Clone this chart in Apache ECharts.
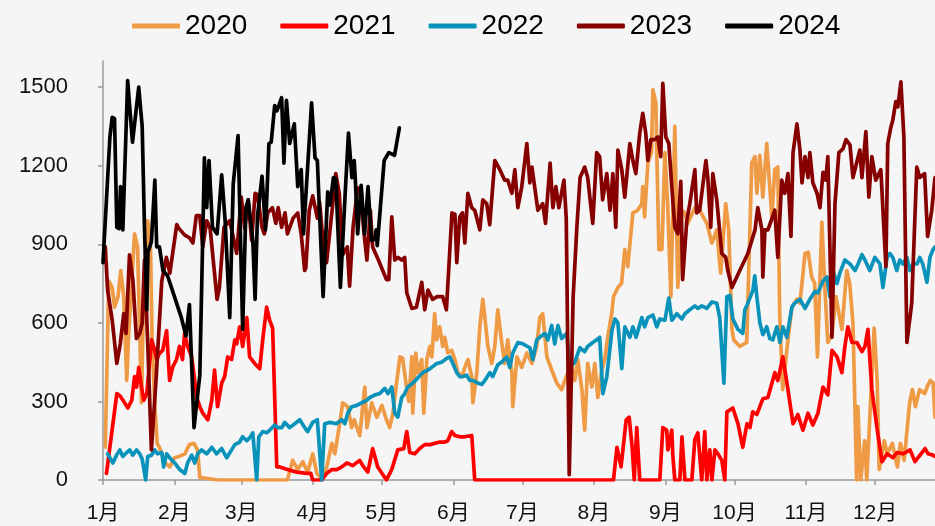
<!DOCTYPE html>
<html>
<head>
<meta charset="utf-8">
<script src="https://cdn.jsdelivr.net/npm/echarts@6/dist/echarts.min.js"></script>
<style>
html,body{margin:0;padding:0;background:#F5F5F5;}
#chart{width:935px;height:526px;}
</style>
</head>
<body>
<div id="chart"></div>
<script>
// Day index within a leap year (0 = 1月1日)
const monthStarts = [0, 31, 60, 91, 121, 152, 182, 213, 244, 274, 305, 335];
const monthLabels = ['1月','2月','3月','4月','5月','6月','7月','8月','9月','10月','11月','12月'];
const yTicks = [0, 300, 600, 900, 1200, 1500];
const seriesNames = ['2020', '2021', '2022', '2023', '2024'];

const data2020 = [[1,125],[2.5,760],[4,735],[5,660],[6.5,700],[7.7,800],[9,700],[10.3,380],[11,535],[13.7,940],[15,890],[16.7,295],[17.7,760],[19.4,990],[20.6,890],[21.3,535],[22.5,280],[23.5,140],[24.5,125],[27,65],[29,50],[31,85],[33,90],[35.5,100],[37.5,135],[39.5,140],[41,115],[42,10],[50,0],[60,0],[70,0],[80,0],[82.3,75],[84.5,40],[86.7,70],[88.8,30],[91,100],[92.8,25],[94.9,5],[97.1,50],[99.3,140],[100.6,100],[102.7,215],[104,295],[106.2,280],[107.9,200],[109,230],[111.4,170],[113.6,355],[114.5,200],[116.6,295],[118.8,240],[121,285],[123,230],[124.4,200],[125.7,250],[127.5,380],[128.8,470],[130,465],[131.3,380],[132.7,300],[134,470],[134.4,255],[135.7,485],[136.6,410],[138.3,460],[139.2,255],[140.5,460],[141.8,510],[142.7,470],[143.9,635],[144.8,535],[146.1,585],[147.4,510],[148.3,545],[149.6,485],[151.3,495],[152.7,460],[154,410],[155.7,395],[157,430],[158.3,460],[160,395],[160.5,295],[162.2,410],[163.5,585],[164.8,690],[165.7,620],[167,510],[168.7,445],[170,510],[171.3,650],[173,525],[174.3,445],[175.6,535],[177.4,410],[177.8,280],[179.6,470],[181.7,430],[183.9,485],[186.1,445],[188.2,510],[189.5,620],[190.8,635],[192.6,470],[194.7,420],[196.9,370],[199,345],[201.2,400],[203.4,430],[204.7,380],[206,460],[207.8,345],[209,190],[210.3,445],[212.1,355],[213.4,445],[214.7,315],[216.4,420],[217.7,460],[219,545],[220.8,640],[221.5,700],[223.4,735],[225,750],[226.4,880],[227.7,815],[229.9,1020],[232,1030],[233.8,1055],[234.2,1120],[235,1005],[236.4,1210],[238,1250],[238.6,1490],[239.9,1440],[240.3,1250],[241.2,880],[242.5,880],[243.8,1250],[245,1055],[246.4,700],[248.1,1350],[249.4,735],[251.2,1030],[252.5,1020],[253.7,980],[256.8,1040],[258.9,1030],[262,980],[264.2,905],[266.3,955],[268,790],[270.2,1055],[271.5,955],[272.9,575],[273.7,535],[276.3,510],[279.3,525],[281.5,1210],[282.9,1235],[283.7,1095],[285,1240],[286.3,1080],[288,1285],[290.2,1005],[291.5,1185],[292.8,1195],[293.6,635],[294.9,345],[297,520],[298.9,660],[301.1,690],[302.4,675],[304.6,865],[306,870],[307.5,775],[308.8,750],[310,470],[311.9,985],[313.1,750],[314.5,525],[316.3,560],[318,700],[320.6,575],[322.7,800],[324,750],[325.4,600],[327,0],[327.5,280],[328.8,0],[330.5,150],[331.4,0],[334.6,580],[335.9,380],[336.8,40],[339,150],[340.3,100],[342.5,140],[344.7,50],[346,140],[347.6,75],[350,295],[351.2,345],[352.5,280],[354.3,345],[356.5,330],[357.8,360],[359,380],[360.2,370],[361,240]];

const data2021 = [[1.5,25],[6,330],[7.5,320],[9,300],[10.8,275],[12.5,305],[13.7,395],[14.6,355],[15.5,430],[16.7,355],[17.7,305],[19,330],[21.1,535],[22,510],[23.3,460],[24.6,485],[25.9,495],[27.6,570],[28.9,380],[30.2,430],[31.9,460],[33.2,510],[34.5,460],[35.4,560],[36.7,510],[38.5,470],[40.7,315],[42,280],[43.3,255],[45.5,230],[47.2,305],[48.4,420],[49.7,280],[51.5,370],[52.8,395],[54.1,470],[55.8,460],[57.2,535],[58,520],[59.3,585],[60.6,510],[62.4,620],[63.6,470],[65.8,445],[68,425],[69.3,535],[71,660],[72.3,610],[73.6,580],[75.4,50],[76.7,50],[80,40],[84,30],[88.4,25],[90.2,25],[91,0],[95,0],[97,25],[99.3,40],[101.4,40],[103.6,50],[105.8,65],[108.4,55],[111.4,75],[112.7,55],[114.9,30],[117,120],[119.2,50],[123,0],[125.3,40],[127.9,115],[130.5,120],[131.8,185],[133.1,105],[135.3,100],[137.4,120],[139.6,135],[142,135],[143.9,140],[146.1,145],[148.3,145],[149.6,150],[151.3,185],[152.7,170],[154.8,165],[157,165],[160,170],[161.3,0],[221.5,0],[223,125],[224.8,50],[227,230],[228.3,240],[229.6,125],[230.5,0],[231.6,200],[232.9,0],[241.6,0],[242.9,200],[244.6,190],[245.1,115],[246.8,190],[247.2,100],[248.1,0],[250.3,0],[251.2,165],[252.5,0],[255.5,0],[256.8,155],[258.1,180],[259.8,0],[261.1,185],[262,0],[263.3,115],[264.2,0],[265.5,115],[266.8,100],[268.5,75],[269.8,0],[270.7,260],[273.3,275],[275.5,215],[277.6,125],[279.4,215],[280.7,200],[281.9,260],[283.7,250],[285,280],[286.3,310],[288.5,315],[291.5,410],[292.8,380],[295,470],[297.2,345],[299.4,215],[301.5,250],[303.7,190],[305.9,255],[308,210],[310.2,255],[312.4,355],[314.5,325],[316.3,495],[318.5,470],[320.6,410],[321.9,510],[323.2,585],[325,525],[327.1,525],[329.3,490],[330.6,510],[331.9,575],[333.6,345],[335.8,200],[338,70],[340.2,100],[342.8,85],[344.5,105],[347.1,100],[350.2,115],[352.3,70],[354.5,95],[356.7,120],[358,100],[360.1,95],[361,90]];

const data2022 = [[2,100],[4.3,65],[5.9,95],[7.3,115],[8.6,90],[10.3,105],[11.6,115],[12.9,95],[14.6,115],[15.9,100],[17,80],[18.5,0],[19.4,90],[21.1,95],[22.4,115],[23.7,100],[25.5,105],[26.3,50],[27.6,100],[28.9,85],[31.1,65],[33.3,40],[35.5,25],[36.7,65],[38.5,95],[39.8,65],[41.1,100],[42.8,115],[45,100],[47.2,125],[49.3,100],[51.5,120],[53.7,85],[55.8,115],[57.2,135],[59.3,145],[60.6,165],[62.4,150],[64,165],[65,180],[66.7,0],[67.6,165],[69.3,185],[71,180],[72.3,190],[74.5,210],[75.8,200],[77.6,200],[78.8,220],[81,200],[83.2,215],[85.4,230],[87.5,200],[88.8,185],[91,220],[93,230],[94.9,0],[96.2,215],[98.5,220],[101.3,215],[103.6,230],[104.9,215],[106.2,255],[107.9,280],[110.1,285],[112.3,295],[114.5,305],[115.8,315],[118,325],[120.1,330],[122.3,350],[123.6,330],[125.3,355],[126.6,255],[127.9,240],[129.6,315],[130.9,330],[132.2,355],[134.4,370],[136.6,390],[138.7,410],[141,420],[142.6,430],[144.8,445],[147,450],[149.2,465],[150.5,470],[151.8,445],[153.5,410],[154.8,395],[156.1,395],[157.8,400],[159.2,380],[160.5,380],[162.6,370],[164.4,365],[165.7,380],[167.8,410],[169.1,395],[171.3,440],[173,450],[175.2,470],[176.5,430],[177.8,485],[180,525],[182.1,520],[185.2,505],[186.5,460],[188.2,535],[189.5,545],[191.7,560],[193,535],[194.7,590],[196,520],[197.4,590],[199,540],[201.2,560],[202.5,430],[204.7,450],[206.9,505],[209,490],[210.3,510],[212.5,525],[214.2,535],[215.5,545],[216.9,330],[218.6,395],[220.8,570],[222.1,615],[223.4,600],[225.1,425],[226.4,585],[228.6,545],[229.9,585],[231.3,545],[233.8,620],[235,585],[236.4,620],[238.6,630],[240.3,585],[241.6,615],[243.8,610],[245.5,695],[246.8,610],[249,635],[251.2,615],[252.5,635],[254.6,650],[256.8,665],[258.1,655],[259.8,665],[262,655],[264.2,680],[266.3,675],[267.6,620],[269.4,370],[270.7,700],[272,705],[273.3,615],[275.5,575],[277.6,560],[278.5,650],[279.8,675],[282,725],[282.8,780],[283.7,700],[285,600],[286.3,555],[288,585],[289.3,540],[290.6,535],[292.4,585],[293.7,525],[295,585],[296.7,545],[298.9,660],[300.1,675],[302.4,690],[304.6,655],[306.7,690],[308.9,720],[310.2,715],[312.4,760],[314.1,775],[315.4,700],[316.7,800],[318.5,750],[319.7,790],[321.9,840],[324.1,825],[326.3,800],[327.6,825],[329.3,860],[330.6,840],[332.7,800],[334.9,850],[337.1,825],[338.4,735],[340.2,850],[341.4,865],[342.7,850],[344.4,800],[345.7,840],[347.1,825],[348.8,850],[350.1,800],[351.4,825],[353.2,825],[354.4,850],[355.7,825],[357.5,755],[358.8,850],[360.1,880],[361,890]];

const data2023 = [[1,890],[2,725],[4,610],[6,445],[7.5,520],[9,635],[10,560],[11.5,860],[13,760],[14.5,540],[16,560],[17,600],[18,840],[19.5,500],[21,115],[23,380],[25.5,760],[27.5,850],[29,790],[32,975],[33,960],[35.5,935],[37.5,925],[39,905],[40.5,1010],[42,1010],[43.3,890],[45,990],[46.5,960],[49.5,690],[50.5,735],[52.5,965],[55,990],[58,865],[60,1080],[61.5,960],[63,1070],[64.5,915],[66,1095],[67,1090],[69,965],[70,940],[71.5,1020],[73.5,1040],[75,980],[76,1040],[77.5,965],[79,1020],[80,940],[82.5,1000],[84.5,1020],[86,940],[87.5,800],[88,810],[89.5,1030],[91,1085],[93,1000],[94,1060],[95.5,905],[97,830],[98.5,955],[100,1080],[101,1170],[102.5,1095],[104,860],[106,890],[107,740],[108.5,965],[110.5,1115],[112,1110],[113,965],[114.5,840],[116,1030],[117,890],[119.5,840],[123,765],[124,765],[125.3,1005],[126.6,840],[128,850],[129.6,840],[130.9,850],[131.8,715],[134,655],[136,660],[138.3,755],[139.6,650],[141,725],[143,690],[145,700],[147.4,700],[149,650],[151.4,1020],[152.7,1015],[153.5,830],[154.8,1005],[156,1020],[157,905],[158.3,1095],[160,1040],[161.3,1030],[163.5,955],[164.8,1070],[166.5,1055],[167.8,975],[170,1220],[172.2,1185],[174.3,1145],[175.6,1145],[177.4,1095],[178.7,1185],[180,1040],[181.7,1120],[183.9,1285],[185.2,1135],[186.1,1195],[188.7,1030],[190.8,1055],[192,980],[194,1210],[195.2,1040],[196.5,1120],[197.8,1040],[200,1145],[201,1000],[202.3,20],[204,700],[205.6,965],[207,1155],[209,1195],[210.3,1155],[212.5,980],[214.2,1250],[215.5,1235],[216.8,1070],[218.6,1170],[220,1030],[221.2,1170],[222.5,965],[223.4,1260],[225.1,1185],[226.4,1080],[228.6,1285],[229.9,1220],[231.2,1170],[232.9,1325],[234.2,1400],[235.5,1325],[236.4,1220],[237.7,1300],[239.4,1300],[240.7,1310],[242,1235],[242.9,1515],[244.2,1310],[245.5,1285],[246.8,1120],[248.1,965],[249.4,940],[250.7,1140],[251.5,765],[253.3,990],[254.6,1055],[256.8,1185],[257.6,1020],[258.9,1030],[261.6,1220],[262.4,1155],[263.7,965],[264.6,1170],[266.3,1070],[268.5,865],[270.2,850],[271.1,800],[272.9,735],[276.3,800],[279.8,865],[282.9,955],[284.1,1040],[285.9,955],[286.3,775],[287.2,955],[288.5,955],[291.5,1030],[292.8,850],[294.5,1145],[295.8,1095],[297.2,1170],[298.5,930],[299.4,1250],[301.1,1360],[302.4,1260],[303.3,1135],[304.6,1235],[305.9,1155],[306.7,1250],[308,1135],[309.8,1095],[311.1,1040],[312.4,1175],[313.6,1145],[314.5,1235],[316.3,545],[317.6,1055],[319.3,1250],[321.1,1265],[322.4,1300],[324.1,1280],[325.4,1155],[328.4,1260],[329.3,1155],[331,1330],[332.3,1080],[333.6,1235],[335.3,1145],[337.5,1185],[339.7,815],[340.5,1285],[341.8,1345],[342.7,1375],[344,1445],[344.9,1425],[346.2,1520],[347.5,1310],[348.8,525],[350.9,675],[353.1,1195],[354.4,1155],[356.5,1170],[357.8,930],[359.6,1030],[361,1155]];

const data2024 = [[0,830],[3,1310],[4,1385],[5,1380],[6,965],[7,960],[7.6,1120],[8.6,955],[10.7,1525],[12.8,1290],[15.5,1500],[17,1350],[18,965],[19,650],[19.5,870],[21,910],[22.5,1145],[23.3,890],[24.5,890],[26,800],[28,780],[31,700],[34,620],[36,550],[37.5,670],[39.5,200],[42,400],[44,1230],[45,1040],[46,1220],[47.5,965],[49.5,940],[51.5,1165],[53,990],[55,620],[56.5,1130],[58.6,1315],[60.6,575],[62,1040],[63,1070],[65,915],[66,690],[67,1005],[69,1160],[70.5,955],[72,1285],[73,1290],[74.5,1430],[75.5,1410],[77.5,1460],[78.5,1210],[79.6,1450],[81,1285],[83,1360],[84.5,1120],[86,1185],[87,940],[90.5,1440],[92,1230],[93,1220],[95.5,700],[97.5,1100],[98.5,1050],[100,1155],[101,1150],[103,735],[105,1080],[106.5,1325],[108,1155],[109,1220],[109.5,1145],[110.5,940],[112,1125],[113.5,940],[115,1120],[116.5,915],[118,920],[118.5,955],[119,895],[122,1220],[124,1250],[126.5,1240],[128.6,1345]];

const seriesData = [data2020, data2021, data2022, data2023, data2024];
const seriesColors = ['#EF9A45', '#FF0000', '#0A93BA', '#870000', '#000000'];

const sansFont = "Arial, 'Liberation Sans', 'DejaVu Sans', sans-serif";
const chart = echarts.init(document.getElementById('chart'));
const axisColor = '#9A9A9A';
chart.setOption({
  backgroundColor: '#F5F5F5',
  animation: false,
  legend: {
    top: 7,
    left: 127,
    itemWidth: 48,
    itemHeight: 5,
    itemGap: 33,
    icon: 'roundRect',
    textStyle: { fontFamily: sansFont, fontSize: 28, color: '#000' },
    data: seriesNames
  },
  grid: { left: 103, right: 0, top: 61, bottom: 46, containLabel: false },
  xAxis: {
    type: 'value',
    min: 0,
    max: 361,
    splitLine: { show: false },
    axisLine: { show: true, onZero: false, lineStyle: { color: axisColor, width: 1.5 } },
    axisTick: { show: true, customValues: monthStarts, length: 5, lineStyle: { color: axisColor, width: 1.5 } },
    axisLabel: {
      customValues: monthStarts,
      margin: 23,
      fontSize: 21,
      color: '#111',
      fontFamily: "Arial, 'Liberation Sans', 'Noto Sans CJK SC', sans-serif",
      formatter: function (v) { const i = monthStarts.indexOf(Math.round(v)); return i >= 0 ? monthLabels[i] : ''; }
    }
  },
  yAxis: {
    type: 'value',
    min: 0,
    max: 1600,
    interval: 300,
    splitLine: { show: false },
    axisLine: { show: true, lineStyle: { color: axisColor, width: 1.5 } },
    axisTick: { show: true, customValues: yTicks, length: 5, lineStyle: { color: axisColor, width: 1.5 } },
    axisLabel: {
      customValues: yTicks,
      margin: 35,
      fontSize: 22,
      color: '#111',
      fontFamily: sansFont,
      formatter: function (v) { return String(v); }
    }
  },
  series: seriesNames.map(function (name, i) {
    return {
      name: name,
      type: 'line',
      data: seriesData[i],
      showSymbol: false,
      symbol: 'none',
      clip: true,
      itemStyle: { color: seriesColors[i] },
      lineStyle: { color: seriesColors[i], width: 3.7, cap: 'round', join: 'round' }
    };
  })
});
</script>
</body>
</html>
